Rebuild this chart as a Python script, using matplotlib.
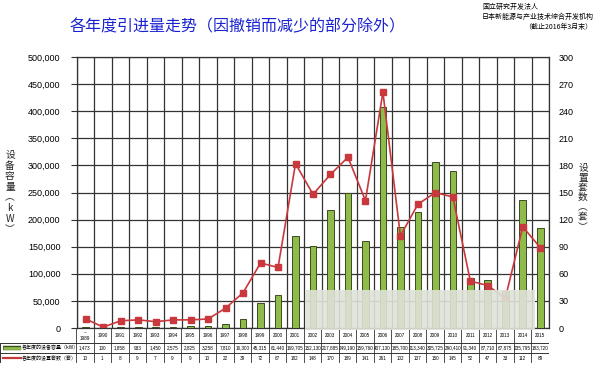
import matplotlib
matplotlib.use('Agg')
import matplotlib.pyplot as plt
from matplotlib.patches import Rectangle
import numpy as np

plt.rcParams['font.family'] = ['Liberation Sans', 'Noto Sans CJK SC', 'DejaVu Sans']

years = ['~\n1989', '1990', '1991', '1992', '1993', '1994', '1995', '1996', '1997', '1998',
         '1999', '2000', '2001', '2002', '2003', '2004', '2005', '2006', '2007', '2008',
         '2009', '2010', '2011', '2012', '2013', '2014', '2015']
capacity = [1473, 100, 1858, 933, 1450, 2575, 2825, 3258, 7810, 16300,
            45315, 61440, 169705, 152130, 217885, 249190, 159760, 407130, 185700, 213340,
            305725, 290410, 91340, 87710, 67875, 235795, 183720]
counts = [10, 1, 8, 9, 7, 9, 9, 10, 22, 39,
          72, 67, 182, 148, 170, 189, 141, 261, 102, 137,
          150, 145, 52, 47, 33, 112, 89]
left_ticks = [0, 50000, 100000, 150000, 200000, 250000, 300000, 350000, 400000, 450000, 500000]
right_ticks = [0, 30, 60, 90, 120, 150, 180, 210, 240, 270, 300]

title = '各年度引进量走势（因撤销而减少的部分除外）'
source = ['国立研究开发法人', '日本新能源与产业技术综合开发机构', '（截止2016年3月末）']
legend_cap = '各年度的设备容量（kW）'
legend_cnt = '各年度的设置套数（套）'
left_label = ['设', '备', '容', '量', '︵', 'k', 'W', '︶']
right_label = ['设', '置', '套', '数', '︵', '套', '︶']

W, H = 600, 370
fig = plt.figure(figsize=(6, 3.7), dpi=100)
fig.patch.set_facecolor('white')

def fx(px):
    return px / W

def fy(py):
    return 1 - py / H

L, R, T, B = 77, 549, 57, 328
ax = fig.add_axes([fx(L), fy(B), fx(R - L), (B - T) / H])
n = len(years)
x = np.arange(n)
green = '#8fbb4a'
red = '#c8383c'
grid_c = '#333333'

ax.bar(x, capacity, width=0.38, color=green, edgecolor='#3c4a22', linewidth=0.7, zorder=3)
ax.set_xlim(-0.5, n - 0.5)
ax.set_ylim(0, 500000)
ax.set_yticks(left_ticks)
ax.set_yticklabels([f'{v:,}' for v in left_ticks], fontsize=6.5)
ax.set_xticks(np.arange(n + 1) - 0.5)
ax.set_xticklabels([])
ax.tick_params(axis='x', length=0)
ax.tick_params(axis='y', length=4, width=0.8, color=grid_c, pad=8)
ax.grid(True, color=grid_c, linewidth=0.9, zorder=0)
for s in ax.spines.values():
    s.set_color(grid_c)
    s.set_linewidth(0.9)

ax2 = ax.twinx()
ax2.plot(x, counts, color=red, linewidth=1.2, marker='s', markersize=4,
         markerfacecolor=red, markeredgecolor=red, zorder=4)
ax2.set_ylim(0, 300)
ax2.set_yticks(right_ticks)
ax2.set_yticklabels([str(v) for v in right_ticks], fontsize=6.5)
ax2.tick_params(axis='y', length=0, pad=7)
ax2.set_xlim(-0.5, n - 0.5)
for s in ax2.spines.values():
    s.set_visible(False)

# blurred watermark area
fig.patches.append(Rectangle((fx(305), fy(330)), fx(230), 40 / H, transform=fig.transFigure,
                             facecolor='#dfe3d8', alpha=0.9, edgecolor='none', zorder=5))

# axis labels (vertical stacked, one glyph per position)
cjk = ['Noto Sans CJK SC']
for i, ch in enumerate(left_label):
    fig.text(fx(10), fy(155 + i * 10.6), ch, fontsize=7, ha='center', va='center',
             color='#222222', family=cjk)
for i, ch in enumerate(right_label):
    fig.text(fx(583), fy(168 + i * 9.8), ch, fontsize=7, ha='center', va='center',
             color='#222222', family=cjk)

# title
fig.text(fx(238), fy(27), title, fontsize=11.5, color='#1a22d0', ha='center', va='center',
         family=cjk)
# source block
fig.text(fx(482), fy(7), source[0], fontsize=5, ha='left', va='center', family=cjk)
fig.text(fx(482), fy(17), source[1], fontsize=5, ha='left', va='center', family=cjk)
fig.text(fx(592), fy(27), source[2], fontsize=5, ha='right', va='center', family=cjk)

# table
cw = (R - L) / n
tax = fig.add_axes([0, fy(363), fx(R), (363 - 328) / H])
tax.set_xlim(-0.5 - (L - 1) / cw, n - 0.5)
tax.set_ylim(363, 328)
tax.axis('off')
row_y = [328, 343, 353, 363]
lc = '#333333'
x_left = -0.5 - (L - 1) / cw
for yy in row_y[1:]:
    tax.plot([x_left, n - 0.5], [yy, yy], color=lc, linewidth=0.7)
tax.plot([-0.5, n - 0.5], [328, 328], color=lc, linewidth=0.7)
for i in range(n + 1):
    tax.plot([i - 0.5, i - 0.5], [328, 363], color=lc, linewidth=0.6)
tax.plot([x_left, x_left], [343, 363], color=lc, linewidth=0.7)
for i in range(n):
    tax.text(i, 335.5, years[i], fontsize=3.3, ha='center', va='center', linespacing=1.3)
    tax.text(i, 348, f'{capacity[i]:,}', fontsize=3.3, ha='center', va='center')
    tax.text(i, 358, str(counts[i]), fontsize=3.3, ha='center', va='center')
# legend column
xs0 = x_left + 3 / cw
xs1 = x_left + 21 / cw
tax.plot([xs0, xs1], [348, 348], color='#3c4a22', linewidth=3.2, solid_capstyle='butt')
tax.plot([xs0, xs1], [348, 348], color=green, linewidth=2.0, solid_capstyle='butt')
tax.plot([xs0, xs1], [358, 358], color=red, linewidth=1.6)
tax.text(xs1 + 1 / cw, 348, legend_cap, fontsize=3.6, ha='left', va='center', family=cjk)
tax.text(xs1 + 1 / cw, 358, legend_cnt, fontsize=3.6, ha='left', va='center', family=cjk)

fig.savefig('out.png', dpi=100, facecolor='white')
